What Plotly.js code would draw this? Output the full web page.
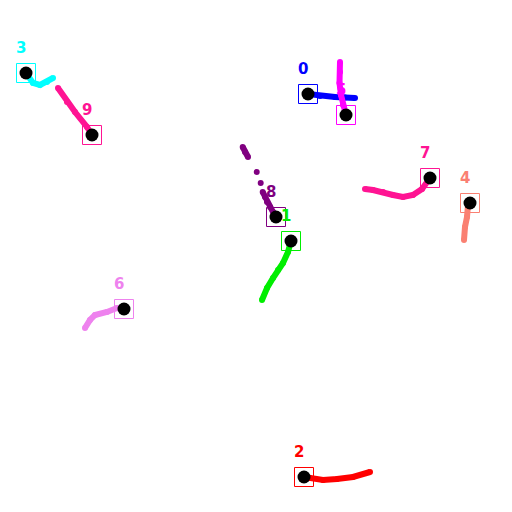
<!DOCTYPE html>
<html>
<head>
<meta charset="utf-8">
<script src="https://cdn.plot.ly/plotly-3.0.1.min.js"></script>
<style>html,body{margin:0;padding:0;background:#fff;}#plot{width:512px;height:512px;}</style>
</head>
<body>
<div id="plot"></div>
<script>
// Object ids and head positions
const ids   = ["0","1","2","3","4","5","6","7","8","9"];
const headX = [308, 291, 304, 26, 470, 346, 124, 430, 276, 92];
const headY = [94, 241, 477, 73, 203, 115, 309, 178, 217, 135];

// Trail points (one list per object), in the same coordinate space
const trail0X = [308, 320, 335, 345, 355];
const trail0Y = [94, 96, 97, 97.5, 98];
const trail1X = [291, 288, 283, 278, 273, 267, 262];
const trail1Y = [241, 252, 263, 270, 278, 288, 300];
const trail2X = [304, 310, 323, 337, 353, 370];
const trail2Y = [477, 478, 480, 479, 477, 472];
const trail3X = [26, 33, 40, 47, 53];
const trail3Y = [73, 83, 85, 82, 78];
const trail4X = [470, 468, 467, 465, 464];
const trail4Y = [203, 205, 217, 227, 240];
const trail5X = [346, 343, 341, 339.5, 340, 340];
const trail5Y = [115, 105, 95, 83, 72, 62];
const trail6X = [124, 117, 107, 95, 90, 85];
const trail6Y = [309, 308, 312, 315, 320, 328];
const trail7X = [430, 422, 413, 403, 393, 383, 373, 365];
const trail7Y = [178, 189, 195, 197, 195, 192, 190, 189];
const trail8X = [242.7, 245, 248, null, 256.7, null, 260.7, null, 262.7, 265, 267, 270, 273, 276];
const trail8Y = [147, 152, 157, null, 172, null, 183, null, 192, 197, 202, 207, 212, 217];
const trail9X = [58, 67, 75, 87, 92];
const trail9Y = [88, 102, 112, 127, 135];

const trailsX = [trail0X, trail1X, trail2X, trail3X, trail4X, trail5X, trail6X, trail7X, trail8X, trail9X];
const trailsY = [trail0Y, trail1Y, trail2Y, trail3Y, trail4Y, trail5Y, trail6Y, trail7Y, trail8Y, trail9Y];

const colors = ["#0000ff", "#00ee00", "#ff0000", "#00ffff", "#fa8072", "#ff00ff", "#ee82ee", "#ff1493", "#800080", "#ff1493"];

const traces = [];
for (let i = 0; i < ids.length; i++) {
  traces.push({
    type: "scatter", mode: "lines+markers",
    x: trailsX[i], y: trailsY[i],
    line: {color: colors[i], width: 6},
    marker: {color: colors[i], size: 6},
    connectgaps: false,
    hoverinfo: "skip", showlegend: false
  });
}
for (let i = 0; i < ids.length; i++) {
  traces.push({
    type: "scatter", mode: "markers",
    x: [headX[i]], y: [headY[i]],
    marker: {symbol: "square-open", size: 19, color: colors[i], line: {color: colors[i], width: 1}},
    hoverinfo: "skip", showlegend: false
  });
}
traces.push({
  type: "scatter", mode: "markers",
  x: headX, y: headY,
  marker: {color: "#000000", size: 13},
  hoverinfo: "skip", showlegend: false
});

const annotations = ids.map((t, i) => ({
  x: headX[i], y: headY[i], xref: "x", yref: "y",
  text: "<b>" + t + "</b>", showarrow: false,
  xshift: -5, yshift: 25,
  font: {family: "DejaVu Sans", size: 15, color: colors[i]}
}));

const layout = {
  width: 512, height: 512,
  margin: {l: 0, r: 0, t: 0, b: 0},
  paper_bgcolor: "#ffffff", plot_bgcolor: "#ffffff",
  xaxis: {range: [0, 512], visible: false, fixedrange: true},
  yaxis: {range: [512, 0], visible: false, fixedrange: true},
  annotations: annotations,
  showlegend: false
};

Plotly.newPlot("plot", traces, layout, {staticPlot: true, displayModeBar: false});
</script>
</body>
</html>
